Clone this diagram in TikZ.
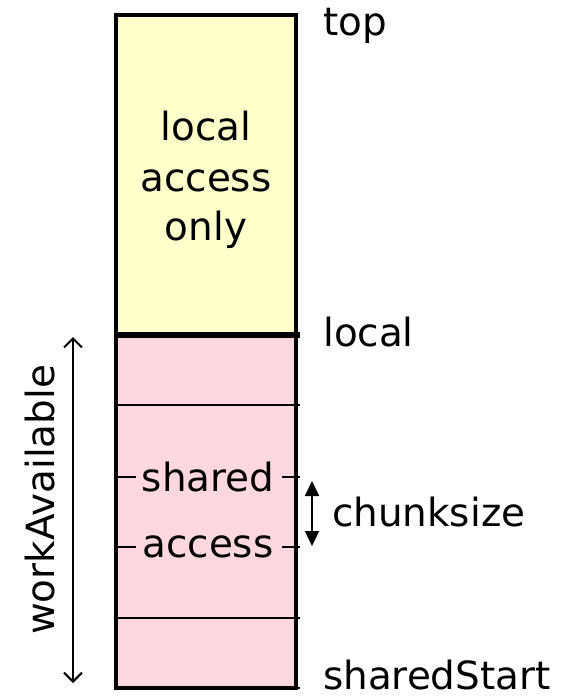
\documentclass[tikz,border=0pt]{standalone}
\usepackage{fontspec}
\setmainfont{DejaVu Sans}
\usetikzlibrary{arrows.meta}
\definecolor{localfill}{HTML}{FFFFCC}
\definecolor{sharedfill}{HTML}{FFD7DF}
\begin{document}
\begin{tikzpicture}[x=1bp,y=-1bp,
  lbl/.style={inner sep=0pt,font=\fontsize{39}{50}\selectfont},
  border/.style={line width=4.5bp},
  divider/.style={line width=1.8bp},
  sep/.style={line width=6bp},
  span/.style={line width=2bp,{Straight Barb[length=9bp,width=18bp]}-{Straight Barb[length=9bp,width=18bp]}},
  chunk/.style={line width=2.2bp,{Triangle[length=15bp,width=14bp]}-{Triangle[length=15bp,width=14bp]}}]
\useasboundingbox (0,0) rectangle (586,697);

% stack regions
\fill[localfill] (116,15) rectangle (296,335);
\fill[sharedfill] (116,335) rectangle (296,688);

% slot dividers
\draw[divider] (116,405) -- (300,405);
\draw[divider] (116,618) -- (300,618);
\draw[divider] (116,477) -- (136,477) (282,477) -- (300,477);
\draw[divider] (116,547) -- (136,547) (282,547) -- (300,547);
\draw[divider] (296,688) -- (300,688);

% boundary between local and shared parts
\draw[sep] (116,335) -- (300,335);

% outer frame
\draw[border] (116,15) rectangle (296,688);

% text in the stack
\node[lbl,anchor=base] (l1) at (206,140) {local};
\node[lbl,anchor=base] (l2) at (206,191) {access};
\node[lbl,anchor=base] (l3) at (206,240) {only};
\node[lbl,anchor=base] (s1) at (208,491) {shared};
\node[lbl,anchor=base] (s2) at (208,557) {access};

% pointer labels
\node[lbl,anchor=base west] (top) at (323,36) {top};
\node[lbl,anchor=base west] (local) at (323,346) {local};
\node[lbl,anchor=base west] (ss) at (323,689) {sharedStart};
\node[lbl,anchor=base west] (cs) at (332,526) {chunksize};
\node[lbl,anchor=base,rotate=90] (wa) at (54,500) {workAvailable};

% extent arrows
\coordinate (waTop) at (73,337);
\coordinate (waBot) at (73,683);
\draw[span] (waTop) -- (waBot);
\coordinate (csTop) at (312,481);
\coordinate (csBot) at (312,546);
\draw[chunk] (csTop) -- (csBot);
\end{tikzpicture}
\end{document}
